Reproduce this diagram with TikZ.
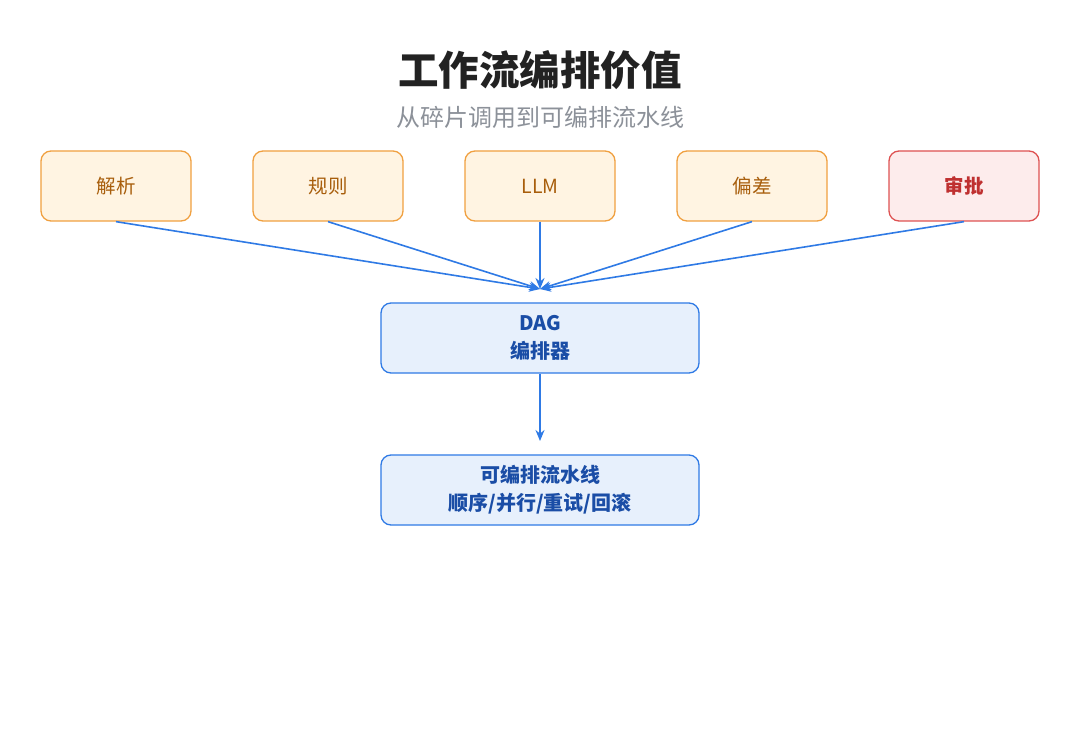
\documentclass[tikz,border=0pt]{standalone}
\usepackage{fontspec}
\setmainfont{Noto Sans CJK SC}
\usetikzlibrary{positioning,arrows.meta}

\definecolor{obord}{HTML}{F0A040}
\definecolor{ofill}{HTML}{FFF4E2}
\definecolor{otext}{HTML}{A85E0C}
\definecolor{rbord}{HTML}{DE5252}
\definecolor{rfill}{HTML}{FDECEC}
\definecolor{rtext}{HTML}{BF3030}
\definecolor{bbord}{HTML}{2F7AE5}
\definecolor{bfill}{HTML}{E7F0FC}
\definecolor{btext}{HTML}{1A4DA6}
\definecolor{ttext}{HTML}{222222}
\definecolor{stext}{HTML}{8C9199}

\tikzset{
	srcbox/.style={draw=obord,fill=ofill,text=otext,line width=1.3pt,rounded corners=10pt,
		minimum width=150pt,minimum height=70pt,font=\fontsize{19.5}{22}\selectfont},
	gatebox/.style={srcbox,draw=rbord,fill=rfill,text=rtext,font=\fontsize{19.5}{22}\selectfont\bfseries},
	corebox/.style={draw=bbord,fill=bfill,text=btext,line width=1.3pt,rounded corners=10pt,
		minimum width=318pt,minimum height=70pt,align=center,
		font=\fontsize{20}{28}\selectfont\bfseries},
	flow/.style={draw=bbord,line width=1.6pt,-{Stealth[length=11pt,width=9pt]}}
}

\begin{document}
\begin{tikzpicture}[x=1pt,y=1pt]
\useasboundingbox[fill=white](0,0) rectangle (1080,-746);

\node[text=ttext,font=\fontsize{40.5}{46}\selectfont\bfseries](title) at (540,-70){工作流编排价值};
\node[text=stext,font=\fontsize{24}{28}\selectfont](sub) at (540,-117){从碎片调用到可编排流水线};

\foreach[count=\c] \x/\t in {116/解析,328/规则,540/LLM,752/偏差}
	\node[srcbox](s\c) at (\x,-186){\t};
\node[gatebox](s5) at (964,-186){审批};

\node[corebox](dag) at (540,-338){DAG\\编排器};
\node[corebox](pipe) at (540,-490){可编排流水线\\顺序/并行/重试/回滚};

\coordinate(hub) at (540,-289);
\coordinate(tip) at (540,-441);

\foreach \s in {1,2,3,4,5}
	\draw[flow](s\s.south)--(hub);

\draw[flow](dag.south)--(tip);
\end{tikzpicture}
\end{document}
